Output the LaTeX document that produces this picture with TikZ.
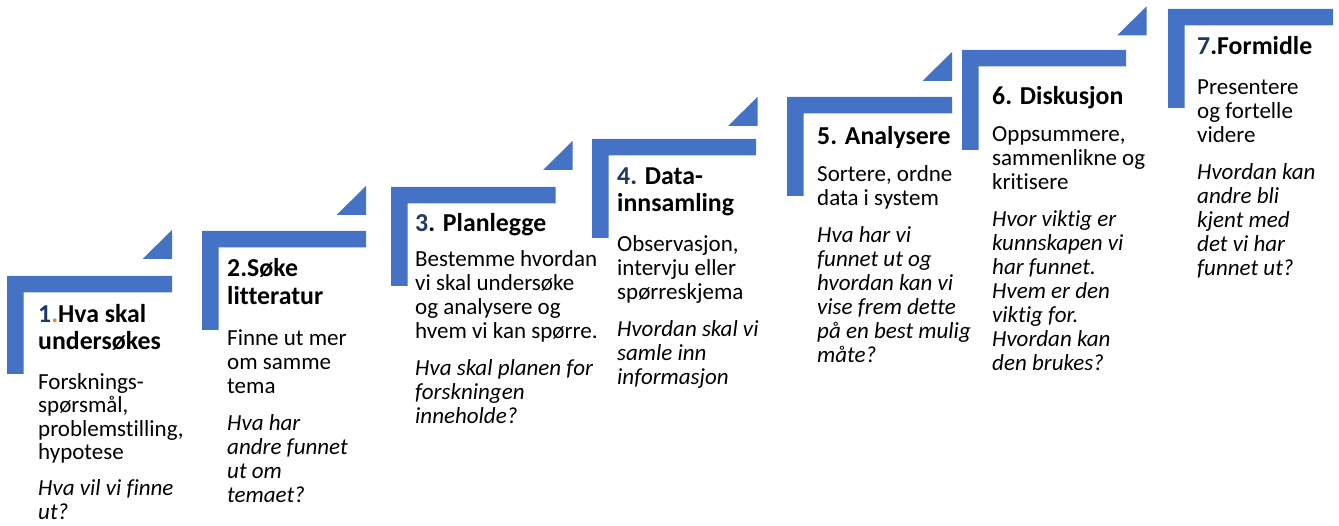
\documentclass[tikz,border=0pt]{standalone}
\usepackage{fontspec}
\setmainfont{Carlito}[Ligatures=NoCommon]
\definecolor{stepblue}{HTML}{4472C4}
\definecolor{numnavy}{HTML}{1F3864}
\definecolor{dotorange}{HTML}{ED7D31}
\tikzset{
  stair/.style={fill=stepblue, draw=none},
  steptitle/.style={anchor=base west, inner sep=0pt, font=\fontsize{25.8}{27.4}\selectfont\bfseries},
  stepbody/.style={anchor=base west, inner sep=0pt, font=\fontsize{23}{24}\selectfont},
}
% L-shaped step: left x, top y, right x, bottom y
\newcommand\stairL[4]{\fill[stair] (#1,#2) -- (#3,#2) -- (#3,#2+16.5) -- (#1+16.5,#2+16.5) -- (#1+16.5,#4) -- (#1,#4) -- cycle;}
% triangle: right x, bottom y
\newcommand\stairT[2]{\fill[stair] (#1-29.5,#2) -- (#1,#2) -- (#1,#2-29) -- cycle;}
\newcommand\stepline[1]{\hbox{#1}}
\newcommand\stepital[1]{\hbox{\itshape #1}}
\newcommand\stepgap{\vskip12.5pt}
\begin{document}
\begin{tikzpicture}[x=1pt,y=-1pt]
\useasboundingbox (0,0) rectangle (1339,526);
% stairs
\stairL{7}{276}{172}{374}    \stairT{172}{259}
\stairL{202}{231}{366}{330}  \stairT{366}{215}
\stairL{391}{187}{555.5}{286} \stairT{572.5}{170}
\stairL{592}{139}{756}{238}  \stairT{757.5}{126}
\stairL{787}{97}{952}{196}   \stairT{952}{81}
\stairL{962}{50}{1126}{150}  \stairT{1146.5}{35.5}
\stairL{1168}{9}{1333}{108}
% step 1
\node[steptitle] (t1) at (38,322.5) {\vtop{\stepline{\textcolor{numnavy}{1}\textcolor{dotorange}{.}Hva skal}\stepline{undersøkes}}};
\node[stepbody, font=\fontsize{23}{23.5}\selectfont] (b1) at (38,389.5) {\vtop{\stepline{Forsknings-}\stepline{spørsmål,}\stepline{problemstilling,}\stepline{hypotese}\stepgap\stepital{Hva vil vi finne}\stepital{ut?}}};
% step 2
\node[steptitle] (t2) at (227,277) {\vtop{\stepline{2.Søke}\stepline{litteratur}}};
\node[stepbody] (b2) at (227,345.7) {\vtop{\stepline{Finne ut mer}\stepline{om samme}\stepline{tema}\stepgap\stepital{Hva har}\stepital{andre funnet}\stepital{ut om}\stepital{temaet?}}};
% step 3
\node[steptitle] (t3) at (415,231.7) {\vtop{\stepline{\textcolor{numnavy}{3}. Planlegge}}};
\node[stepbody] (b3) at (415,267) {\vtop{\stepline{Bestemme hvordan}\stepline{vi skal undersøke}\stepline{og analysere og}\stepline{hvem vi kan spørre.}\stepgap\stepital{Hva skal planen for}\stepital{forskningen}\stepital{inneholde?}}};
% step 4
\node[steptitle] (t4) at (617,184.5) {\vtop{\stepline{\textcolor{numnavy}{4.} Data-}\stepline{innsamling}}};
\node[stepbody] (b4) at (617,252) {\vtop{\stepline{Observasjon,}\stepline{intervju eller}\stepline{spørreskjema}\stepgap\stepital{Hvordan skal vi}\stepital{samle inn}\stepital{informasjon}}};
% step 5
\node[steptitle] (t5) at (817,145) {\vtop{\stepline{5. Analysere}}};
\node[stepbody] (b5) at (817,182) {\vtop{\stepline{Sortere, ordne}\stepline{data i system}\stepgap\stepital{Hva har vi}\stepital{funnet ut og}\stepital{hvordan kan vi}\stepital{vise frem dette}\stepital{på en best mulig}\stepital{måte?}}};
% step 6
\node[steptitle] (t6) at (992,105) {\vtop{\stepline{6. Diskusjon}}};
\node[stepbody] (b6) at (992,141.7) {\vtop{\stepline{Oppsummere,}\stepline{sammenlikne og}\stepline{kritisere}\stepgap\stepital{Hvor viktig er}\stepital{kunnskapen vi}\stepital{har funnet.}\stepital{Hvem er den}\stepital{viktig for.}\stepital{Hvordan kan}\stepital{den brukes?}}};
% step 7
\node[steptitle] (t7) at (1197,55) {\vtop{\stepline{\textcolor{numnavy}{7}.Formidle}}};
\node[stepbody] (b7) at (1197,95) {\vtop{\stepline{Presentere}\stepline{og fortelle}\stepline{videre}\stepgap\stepital{Hvordan kan}\stepital{andre bli}\stepital{kjent med}\stepital{det vi har}\stepital{funnet ut?}}};
\end{tikzpicture}
\end{document}
